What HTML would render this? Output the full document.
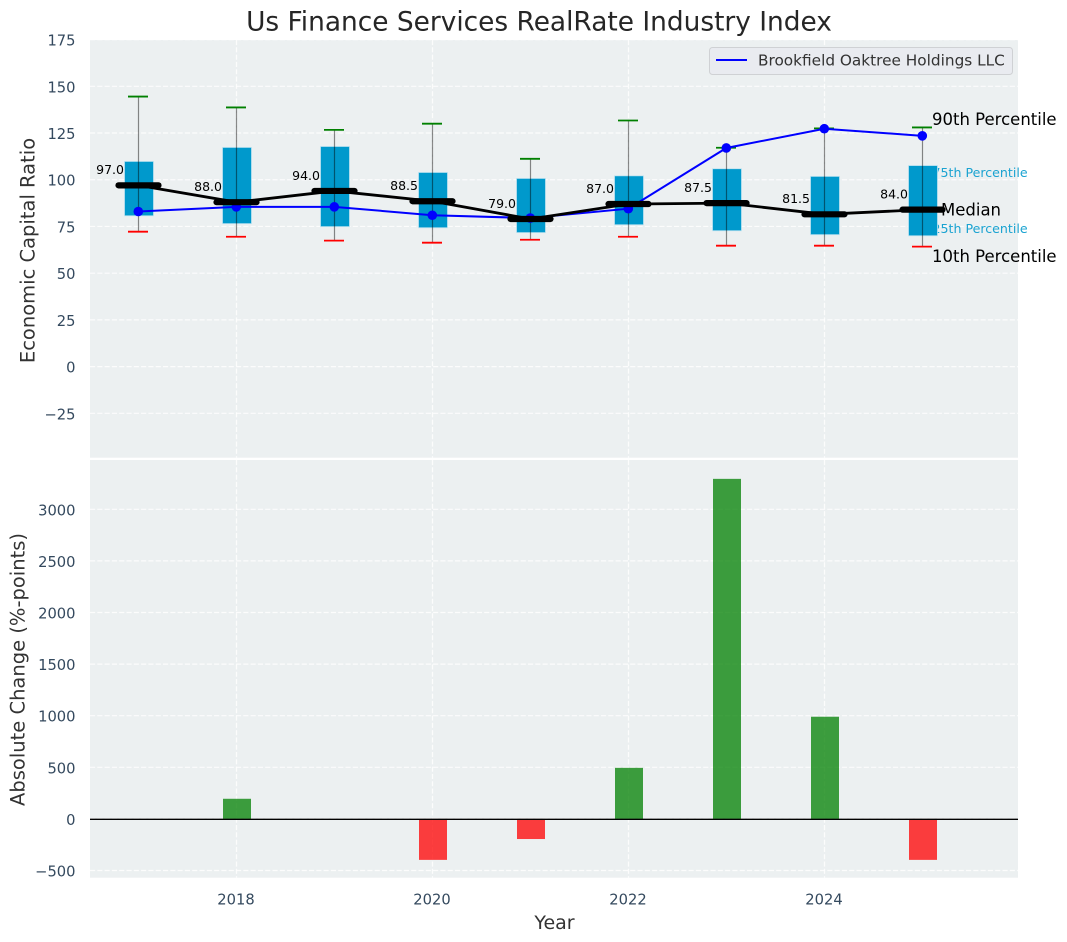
<!DOCTYPE html>
<html lang="en">
<head>
<meta charset="utf-8">
<title>Us Finance Services RealRate Industry Index</title>
<style>
html,body{margin:0;padding:0;background:#fff;width:1067px;height:942px;overflow:hidden}
svg{display:block;font-family:"DejaVu Sans","Liberation Sans",sans-serif}
</style>
</head>
<body>
<svg id="chart" width="1067" height="942" viewBox="0 0 1067 942" xmlns="http://www.w3.org/2000/svg">
  <rect x="0" y="0" width="1067" height="942" fill="#ffffff"/>
  <text x="539" y="30.5" text-anchor="middle" font-size="26.4" fill="#262626">Us Finance Services RealRate Industry Index</text>
  <rect x="90" y="40" width="928" height="417.7" fill="#ecf0f1"/>
  <rect x="90" y="460" width="928" height="417.7" fill="#ecf0f1"/>
  <g id="grid"></g>
  <g id="ticks"></g>
  <text transform="translate(34.5,250.5) rotate(-90)" text-anchor="middle" font-size="19.5" fill="#333333">Economic Capital Ratio</text>
  <text transform="translate(24.5,669.5) rotate(-90)" text-anchor="middle" font-size="19.5" fill="#333333">Absolute Change (%-points)</text>
  <text x="554.5" y="929" text-anchor="middle" font-size="19" fill="#333333">Year</text>
  <g id="annotations">
    <text x="932" y="125" font-size="16.5" fill="#000000">90th Percentile</text>
    <text x="932.5" y="177" font-size="12.6" fill="#1ba3d1">75th Percentile</text>
    <text x="941" y="215.5" font-size="16.5" fill="#000000">Median</text>
    <text x="932.5" y="233" font-size="12.6" fill="#1ba3d1">25th Percentile</text>
    <text x="932" y="262" font-size="16.5" fill="#000000">10th Percentile</text>
  </g>
  <g id="marks-top"></g>
  <g id="marks-bottom"></g>
  <g>
    <rect x="709.5" y="47.5" width="303" height="27" rx="3" fill="#e9ebf0" stroke="#cfd1d4" stroke-width="1"/>
    <line x1="716" y1="60" x2="747" y2="60" stroke="#0000ff" stroke-width="2"/>
    <text x="758" y="65.5" font-size="15.3" fill="#333333">Brookfield Oaktree Holdings LLC</text>
  </g>
</svg>
<script>
const years = [2017, 2018, 2019, 2020, 2021, 2022, 2023, 2024, 2025];
const p90 = [144.5, 138.7, 126.7, 130, 111.2, 131.7, 117.1, 127.5, 128];
const q3 = [109.8, 117.3, 117.8, 103.9, 100.7, 102.1, 105.9, 101.8, 107.6];
const medians = [97, 88, 94, 88.5, 79, 87, 87.5, 81.5, 84];
const q1 = [80.7, 76.5, 74.9, 74.3, 71.7, 75.9, 72.7, 70.6, 70];
const p10 = [72.2, 69.5, 67.4, 66.3, 67.9, 69.5, 64.7, 64.7, 64.2];
const companyValues = [83, 85.5, 85.5, 81, 79.5, 84.5, 117, 127.3, 123.5];
const absoluteChange = [0, 195, 0, -397, -195, 495, 3295, 990, -397];
const xTickLabels = [2018, 2020, 2022, 2024];
const topTickLabels = [175, 150, 125, 100, 75, 50, 25, 0, -25];
const bottomTickLabels = [3000, 2500, 2000, 1500, 1000, 500, 0, -500];

const NS = 'http://www.w3.org/2000/svg';
const plotLeft = 90, plotRight = 1018;
const topPlotTop = 40, topPlotBottom = 457.7;
const bottomPlotTop = 460, bottomPlotBottom = 877.7;

function xPos(year) { return 138.5 + (year - 2017) * 98; }
function yTop(v) { return 366.6 - v * 1.8686; }
function yBottom(v) { return 818.9 - v * 0.1032; }
function fmt(v) { return v < 0 ? '\u2212' + Math.abs(v) : String(v); }

function make(parent, tag, attrs, text) {
  const el = document.createElementNS(NS, tag);
  for (const k in attrs) el.setAttribute(k, attrs[k]);
  if (text !== undefined) el.textContent = text;
  parent.appendChild(el);
  return el;
}

const grid = document.getElementById('grid');
const ticks = document.getElementById('ticks');
const top_ = document.getElementById('marks-top');
const bottom_ = document.getElementById('marks-bottom');
const gridStyle = { stroke: '#ffffff', 'stroke-width': 1.2, 'stroke-dasharray': '5.1 2.2', opacity: 0.85 };

xTickLabels.forEach(function (yr) {
  const x = xPos(yr);
  const a = make(grid, 'line', Object.assign({ x1: x, x2: x, y1: topPlotTop, y2: topPlotBottom }, gridStyle));
  
  
  const b = make(grid, 'line', Object.assign({ x1: x, x2: x, y1: bottomPlotTop, y2: bottomPlotBottom }, gridStyle));
  
  
  const t = make(ticks, 'text', { x: x - 0.5, y: 904.5, 'text-anchor': 'middle', 'font-size': 14.7, fill: '#34495e' }, String(yr));
  
  
});

topTickLabels.forEach(function (v) {
  const y = yTop(v);
  const g = make(grid, 'line', Object.assign({ x1: plotLeft, x2: plotRight, y1: y, y2: y }, gridStyle));
  
  
  const t = make(ticks, 'text', { x: 75.5, y: y + 6, 'text-anchor': 'end', 'font-size': 14.7, fill: '#34495e' }, fmt(v));
  
  
});

bottomTickLabels.forEach(function (v) {
  const y = yBottom(v);
  const g = make(grid, 'line', Object.assign({ x1: plotLeft, x2: plotRight, y1: y, y2: y }, gridStyle));
  
  
  const t = make(ticks, 'text', { x: 75.5, y: y + 6, 'text-anchor': 'end', 'font-size': 14.7, fill: '#34495e' }, fmt(v));
  
  
});

const capHalf = 10;
const medianHalf = 20;

years.forEach(function (yr, i) {
  const x = xPos(yr);
  const box = make(top_, 'rect', {
    x: x - 14, y: yTop(q3[i]), width: 29, height: yTop(q1[i]) - yTop(q3[i]),
    fill: '#0099cc', stroke: '#bfe3f0', 'stroke-width': 0.8
  });
  
  
  const whisker = make(top_, 'line', {
    x1: x, x2: x, y1: yTop(p90[i]), y2: yTop(p10[i]), stroke: '#000000', 'stroke-width': 1.2, opacity: 0.45
  });
  
  
  const capHigh = make(top_, 'line', {
    x1: x - capHalf - 0.5, x2: x + capHalf - 0.5, y1: yTop(p90[i]), y2: yTop(p90[i]), stroke: '#008000', 'stroke-width': 1.8
  });
  
  
  const capLow = make(top_, 'line', {
    x1: x - capHalf - 0.5, x2: x + capHalf - 0.5, y1: yTop(p10[i]), y2: yTop(p10[i]), stroke: '#ff0000', 'stroke-width': 1.8
  });
  
  
});

const companyLine = make(top_, 'polyline', {
  points: years.map(function (yr, i) { return (xPos(yr) - 0.2) + ',' + yTop(companyValues[i]); }).join(' '),
  fill: 'none', stroke: '#0000ff', 'stroke-width': 2
});



years.forEach(function (yr, i) {
  const dot = make(top_, 'circle', { cx: xPos(yr) - 0.2, cy: yTop(companyValues[i]), r: 4.8, fill: '#0000ff' });
  
  
});

const medianLine = make(top_, 'polyline', {
  points: years.map(function (yr, i) { return xPos(yr) + ',' + yTop(medians[i]); }).join(' '),
  fill: 'none', stroke: '#000000', 'stroke-width': 2.8
});



years.forEach(function (yr, i) {
  const x = xPos(yr), y = yTop(medians[i]);
  const m = make(top_, 'line', {
    x1: x - medianHalf, x2: x + medianHalf, y1: y, y2: y, stroke: '#000000', 'stroke-width': 6.2, 'stroke-linecap': 'round'
  });
  
  
  const label = make(top_, 'text', {
    x: x - 14.5, y: y - 11.2, 'text-anchor': 'end', 'font-size': 12.5, fill: '#000000'
  }, medians[i].toFixed(1));
  
  
});

years.forEach(function (yr, i) {
  const v = absoluteChange[i];
  if (v === 0) return;
  const y0 = yBottom(0), y1 = yBottom(v);
  const bar = make(bottom_, 'rect', {
    x: xPos(yr) - 13.5, y: Math.min(y0, y1), width: 28, height: Math.abs(y1 - y0),
    fill: v > 0 ? '#008000' : '#ff0000', 'fill-opacity': 0.75
  });
  
  
});

const zeroLine = make(bottom_, 'line', {
  x1: plotLeft, x2: plotRight, y1: yBottom(0) + 0.4, y2: yBottom(0) + 0.4, stroke: '#000000', 'stroke-width': 1.4
});


</script>
</body>
</html>
